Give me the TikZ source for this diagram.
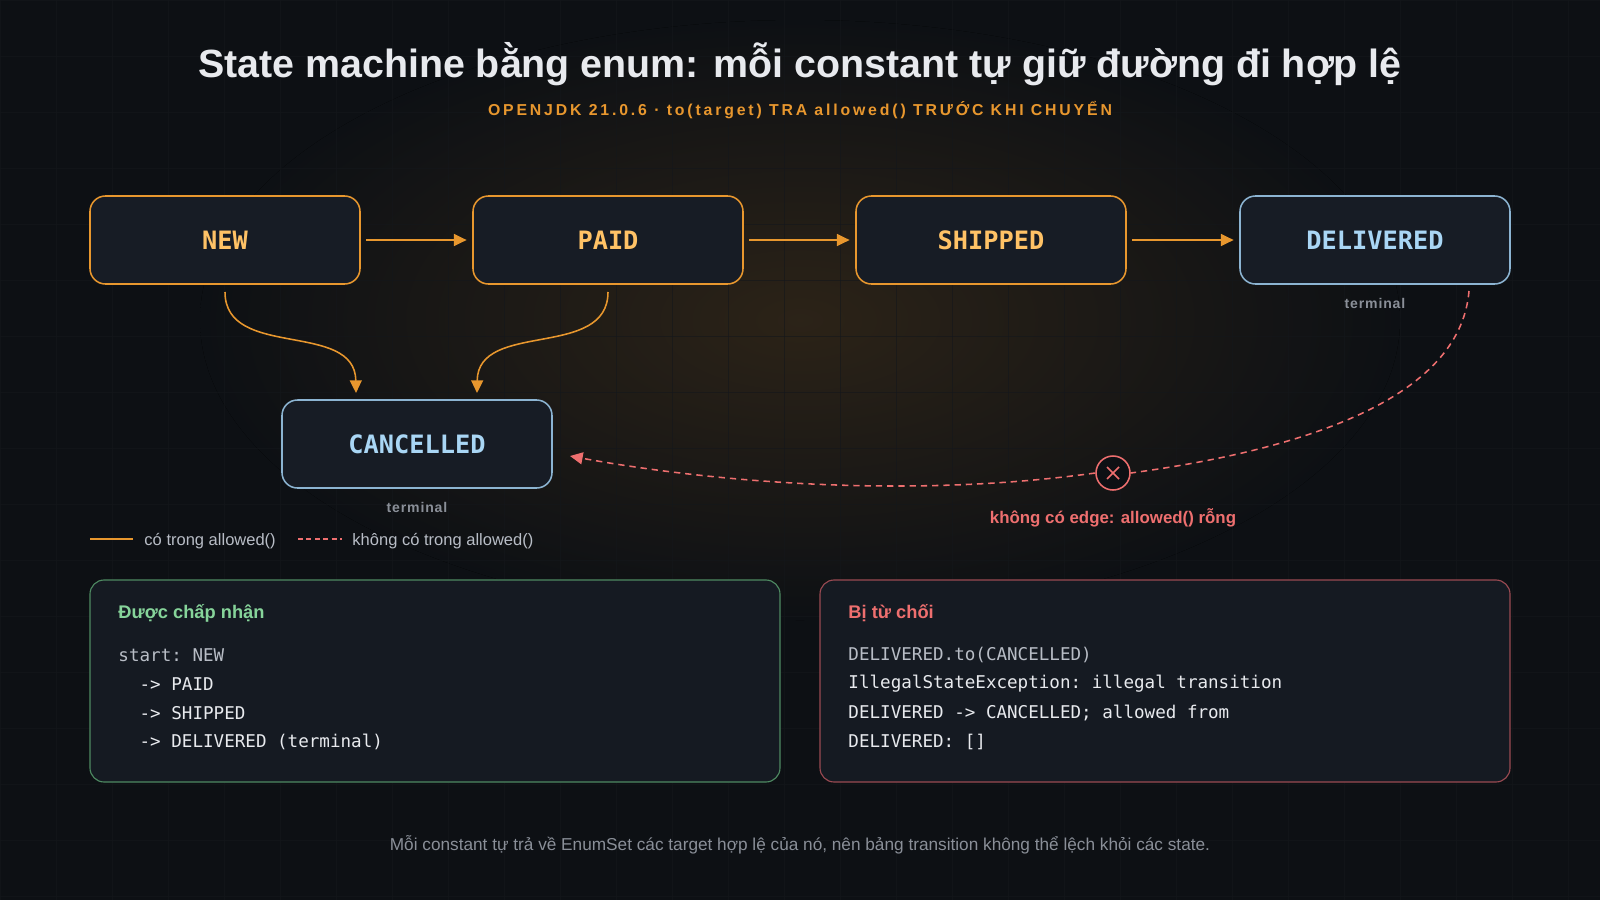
\documentclass[tikz,border=0pt]{standalone}
\usepackage{fontspec}
\setmainfont{Liberation Sans}
\setsansfont{Liberation Sans}
\setmonofont{DejaVu Sans Mono}
\usetikzlibrary{arrows.meta,shapes.geometric}
\definecolor{bg}{HTML}{0D1014}
\definecolor{boxfill}{HTML}{171C25}
\definecolor{org}{HTML}{E8972E}
\definecolor{orgtxt}{HTML}{FFC266}
\definecolor{blu}{HTML}{8CB4D2}
\definecolor{blutxt}{HTML}{A9D6F5}
\definecolor{rd}{HTML}{EE6F6F}
\definecolor{grn}{HTML}{86D49A}
\definecolor{grnb}{HTML}{4E8A62}
\definecolor{rdb}{HTML}{9A4A52}
\definecolor{gry}{HTML}{8A8F98}
\definecolor{codeg}{HTML}{B8BDC6}
\definecolor{codew}{HTML}{E8EAEE}
\definecolor{panel}{HTML}{151A22}
\tikzset{
 st/.style={draw, line width=2.2pt, rounded corners=22pt, fill=boxfill, minimum width=270*0.05cm, minimum height=88*0.05cm, font=\ttfamily\bfseries\fontsize{36}{40}\selectfont},
 sto/.style={st, draw=org, text=orgtxt},
 stb/.style={st, draw=blu, text=blutxt},
 ok/.style={draw=org, line width=2.2pt, -{Triangle[length=18pt,width=17pt]}},
 bad/.style={draw=rd, line width=2.2pt, dash pattern=on 9pt off 7pt, -{Triangle[length=18pt,width=17pt]}},
 term/.style={text=gry, font=\bfseries\fontsize{20}{22}\selectfont\addfontfeatures{LetterSpace=6}},
 lg/.style={text=codeg, font=\fontsize{23.5}{26}\selectfont, anchor=west},
 code/.style={anchor=west, font=\ttfamily\fontsize{25}{28}\selectfont},
 pan/.style={draw, line width=1.6pt, rounded corners=20pt, fill=panel},
}
\begin{document}
\begin{tikzpicture}[x=0.05cm,y=-0.05cm]
\useasboundingbox (0,0) rectangle (1600,900);
\fill[bg] (0,0) rectangle (1600,900);
\fill[inner color=org!14!bg, outer color=bg] (800,320) ellipse (600 and 300);
\foreach \i in {0,56,...,1600} \draw[white!3!bg, line width=0.8pt, opacity=0.6] (\i,0) -- (\i,900);
\foreach \j in {0,56,...,900} \draw[white!3!bg, line width=0.8pt, opacity=0.6] (0,\j) -- (1600,\j);

\node (title) at (800,64) {\color{codew}\bfseries\fontsize{56}{60}\selectfont State machine bằng enum: mỗi constant tự giữ đường đi hợp lệ};
\node (sub) at (800,110) {\color{org}\bfseries\fontsize{22.5}{26}\selectfont\addfontfeatures{LetterSpace=18}OPENJDK 21.0.6 · to(target) TRA allowed() TRƯỚC KHI CHUYỂN};

\node[sto] (new) at (225,240) {NEW};
\node[sto] (paid) at (608,240) {PAID};
\node[sto] (ship) at (991,240) {SHIPPED};
\node[stb] (del) at (1375,240) {DELIVERED};
\node[stb] (can) at (417,444) {CANCELLED};
\node[term] (t1) at (1375,303) {terminal};
\node[term] (t2) at (417,507) {terminal};

\draw[ok] ([xshift=8pt]new.east) -- ([xshift=-8pt]paid.west);
\draw[ok] ([xshift=8pt]paid.east) -- ([xshift=-8pt]ship.west);
\draw[ok] ([xshift=8pt]ship.east) -- ([xshift=-8pt]del.west);
\coordinate (n0) at (225,292);
\coordinate (p0) at (608,292);
\draw[ok] (n0) .. controls (225,360) and (355,320) .. (356,393);
\draw[ok] (p0) .. controls (608,360) and (478,320) .. (477,393);

\coordinate (d0) at (1469,291);
\node[draw=rd, line width=2.2pt, circle, minimum size=34*0.05cm, inner sep=0pt, fill=bg] (x) at (1113,473) {};
\draw[rd, line width=2.4pt] ([shift={(-6,-6)}]x.center) -- ([shift={(6,6)}]x.center) ([shift={(6,-6)}]x.center) -- ([shift={(-6,6)}]x.center);
\draw[bad, -] (d0) .. controls (1460,400) and (1300,450) .. (x.east);
\draw[bad] (x.west) .. controls (900,500) and (700,480) .. (570,456);
\node[text=rd, font=\bfseries\fontsize{24}{26}\selectfont] (xl) at (1113,518) {không có edge: allowed() rỗng};

\coordinate (l1a) at (90,539); \coordinate (l1b) at (133,539);
\draw[org, line width=2.2pt] (l1a) -- (l1b);
\node[lg] (lt1) at (142,541) {có trong allowed()};
\coordinate (l2a) at (298,539); \coordinate (l2b) at (342,539);
\draw[rd, line width=2.2pt, dash pattern=on 7pt off 5pt] (l2a) -- (l2b);
\node[lg] (lt2) at (350,541) {không có trong allowed()};

\node[pan, draw=grnb, minimum width=690*0.05cm, minimum height=202*0.05cm] (pl) at (435,681) {};
\node[pan, draw=rdb, minimum width=690*0.05cm, minimum height=202*0.05cm] (pr) at (1165,681) {};
\node[anchor=west, text=grn, font=\bfseries\fontsize{26}{28}\selectfont] (hl) at (116,613) {Được chấp nhận};
\node[code, text=codeg] (c1) at (116,655) {start: NEW};
\node[code, text=codew] (c2) at (116,684) {\ \ -> PAID};
\node[code, text=codew] (c3) at (116,713) {\ \ -> SHIPPED};
\node[code, text=codew] (c4) at (116,742) {\ \ -> DELIVERED (terminal)};
\node[anchor=west, text=rd, font=\bfseries\fontsize{26}{28}\selectfont] (hr) at (846,613) {Bị từ chối};
\node[code, text=codeg] (r1) at (846,655) {DELIVERED.to(CANCELLED)};
\node[code, text=codew] (r2) at (846,684) {IllegalStateException: illegal transition};
\node[code, text=codew] (r3) at (846,713) {DELIVERED -> CANCELLED; allowed from};
\node[code, text=codew] (r4) at (846,742) {DELIVERED: []};

\node[text=gry, font=\fontsize{24.5}{27}\selectfont] (foot) at (800,845) {Mỗi constant tự trả về EnumSet các target hợp lệ của nó, nên bảng transition không thể lệch khỏi các state.};
\end{tikzpicture}
\end{document}
